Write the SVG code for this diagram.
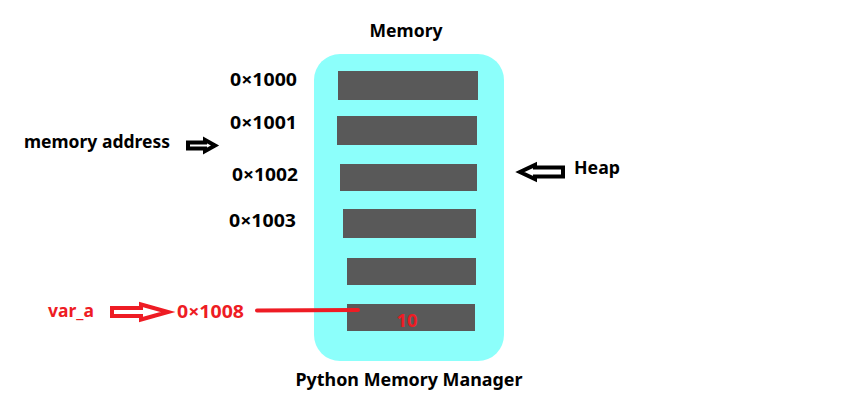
<svg xmlns="http://www.w3.org/2000/svg" width="862" height="400" viewBox="0 0 862 400">
<style>
.t{font-family:"Noto Sans","Liberation Sans",sans-serif;font-weight:bold;font-size:17px;fill:#000}
.r{fill:#ee1c24}
.bar{fill:#595959}
.ab{fill:#fff;stroke:#000;stroke-width:4;stroke-linejoin:miter}
.ar{fill:#fff;stroke:#ee1c24;stroke-width:4;stroke-linejoin:miter}
</style>
<rect width="862" height="400" fill="#fff"/>
<g id="memory">
<rect x="314" y="54" width="190" height="307" rx="26" fill="#8cfffb"/>
<rect class="bar" x="338" y="71" width="140" height="29"/>
<rect class="bar" x="337" y="116" width="140" height="29"/>
<rect class="bar" x="340" y="164" width="137" height="27"/>
<rect class="bar" x="343" y="209" width="133" height="29"/>
<rect class="bar" x="347" y="258" width="129" height="27"/>
<rect class="bar" x="347" y="304" width="128" height="27"/>
<text class="t r" x="407" y="327" text-anchor="middle" font-size="18" textLength="21" lengthAdjust="spacingAndGlyphs">10</text>
<text class="t" x="406" y="37" text-anchor="middle" textLength="73" lengthAdjust="spacingAndGlyphs">Memory</text>
<text class="t" x="409" y="386" text-anchor="middle" textLength="227" lengthAdjust="spacingAndGlyphs">Python Memory Manager</text>
</g>
<g id="addresses">
<text class="t" x="230" y="86" textLength="67" lengthAdjust="spacingAndGlyphs">0×1000</text>
<text class="t" x="230" y="129" textLength="67" lengthAdjust="spacingAndGlyphs">0×1001</text>
<text class="t" x="232" y="181" textLength="66" lengthAdjust="spacingAndGlyphs">0×1002</text>
<text class="t" x="229" y="227" textLength="67" lengthAdjust="spacingAndGlyphs">0×1003</text>
</g>
<g id="memory-address">
<text class="t" x="24" y="148" textLength="146" lengthAdjust="spacingAndGlyphs">memory address</text>
</g>
<g id="heap">
<text class="t" x="574" y="174" textLength="46" lengthAdjust="spacingAndGlyphs">Heap</text>
</g>
<g id="var_a">
<text class="t r" x="48" y="317" textLength="46" lengthAdjust="spacingAndGlyphs">var_a</text>
</g>
<g id="addr1008">
<text class="t r" x="177" y="318" textLength="67" lengthAdjust="spacingAndGlyphs">0×1008</text>
</g>
<g id="connectors">
<path class="ab" d="M188,142.5 H205 V140 L215,145.5 L205,151 V148.5 H188 Z"/>
<path class="ab" d="M563,167.5 H535 V165 L520,172 L535,179 V176.5 H563 Z"/>
<path class="ar" d="M112,308 H141 V304.5 L168,312 L141,319.5 V316 H112 Z"/>
<line x1="257" y1="310.5" x2="358" y2="310" stroke="#ee1c24" stroke-width="4" stroke-linecap="round"/>
</g>
</svg>
